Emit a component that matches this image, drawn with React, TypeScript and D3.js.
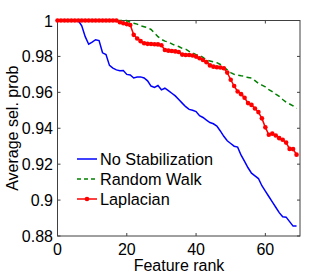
import React from 'react';
import * as d3 from 'd3';

// Feature rank 0..69
const noStabilization = [
  1, 1, 1, 1, 1, 1, 1, 0.997, 0.991, 0.9868,
  0.988, 0.9893, 0.9888, 0.982, 0.981, 0.975, 0.9735, 0.9725, 0.972, 0.9722,
  0.97, 0.9697, 0.968, 0.9685, 0.9686, 0.968, 0.9664, 0.9635, 0.9627, 0.9638,
  0.9614, 0.9623, 0.961, 0.9595, 0.958, 0.956, 0.954, 0.952, 0.9505, 0.95,
  0.9493, 0.947, 0.946, 0.9445, 0.9432, 0.9425, 0.9412, 0.9385, 0.9355, 0.933,
  0.9315, 0.93, 0.9295, 0.925, 0.9216, 0.918, 0.915, 0.9135, 0.912, 0.908,
  0.905, 0.902, 0.899, 0.896, 0.893, 0.8907, 0.8905, 0.888, 0.8855, 0.8855,
];

const randomWalk = [
  1, 1, 1, 1, 1, 1, 1, 1, 1, 1,
  1, 1, 1, 1, 1, 1, 1, 1, 1, 1,
  1, 0.999, 0.9985, 0.998, 0.997, 0.9965, 0.996, 0.995, 0.993, 0.991,
  0.9895, 0.9885, 0.988, 0.987, 0.986, 0.9855, 0.9845, 0.984, 0.9828, 0.982,
  0.981, 0.9805, 0.9795, 0.978, 0.9775, 0.977, 0.9765, 0.9755, 0.974, 0.9725,
  0.971, 0.97, 0.9695, 0.9692, 0.969, 0.9682, 0.968, 0.9665, 0.965, 0.964,
  0.963, 0.9615, 0.9604, 0.959, 0.9578, 0.956, 0.9545, 0.9535, 0.9525, 0.951,
];

const laplacian = [
  1, 1, 1, 1, 1, 1, 1, 1, 1, 1,
  1, 1, 1, 1, 1, 1, 1, 1, 0.999, 0.9985,
  0.998, 0.9975, 0.992, 0.99, 0.9885, 0.9873, 0.987, 0.9869, 0.9868, 0.9867,
  0.9862, 0.9836, 0.9832, 0.983, 0.9828, 0.9825, 0.981, 0.9808, 0.9808, 0.9805,
  0.9799, 0.979, 0.978, 0.9768, 0.975, 0.9743, 0.974, 0.9738, 0.9734, 0.971,
  0.967, 0.9635, 0.9605, 0.959, 0.957, 0.954, 0.953, 0.951, 0.949, 0.9455,
  0.9405, 0.9364, 0.937, 0.936, 0.9345, 0.9336, 0.932, 0.9285, 0.9284, 0.9253,
];

const xTicks = [0, 20, 40, 60];
const yTicks = [0.88, 0.9, 0.92, 0.94, 0.96, 0.98, 1];
const yTickLabels = ['0.88', '0.9', '0.92', '0.94', '0.96', '0.98', '1'];
const legendLabels = ['No Stabilization', 'Random Walk', 'Laplacian'];

const W = 332;
const H = 274;
const font = '"Liberation Sans", Arial, Helvetica, sans-serif';
const axisColor = '#404040';

export default function App() {
  const x = d3.scaleLinear().domain([0, 70]).range([57.5, 300]);
  const y = d3.scaleLinear().domain([0.88, 1]).range([236, 20.5]);

  const line = d3
    .line<number>()
    .x((_, i) => x(i))
    .y((d) => y(d));

  const [x0, x1] = x.range();
  const [y0, y1] = y.range();
  const tick = 3;

  return (
    <svg
      width={W}
      height={H}
      style={{ position: 'absolute', left: 0, top: 0, background: '#fff' }}
      fontFamily={font}
    >
      {/* plot box */}
      <rect x={x0} y={y1} width={x1 - x0} height={y0 - y1} fill="#fff" stroke={axisColor} strokeWidth={1} />

      {/* ticks */}
      {xTicks.map((t) => (
        <g key={`xt${t}`}>
          <line x1={x(t)} x2={x(t)} y1={y0} y2={y0 - tick} stroke={axisColor} />
          <line x1={x(t)} x2={x(t)} y1={y1} y2={y1 + tick} stroke={axisColor} />
          <text x={x(t)} y={254.5} textAnchor="middle" fontSize={16} fill="#000">
            {t}
          </text>
        </g>
      ))}
      {yTicks.map((t, i) => (
        <g key={`yt${t}`}>
          <line x1={x0} x2={x0 + tick} y1={y(t)} y2={y(t)} stroke={axisColor} />
          <line x1={x1} x2={x1 - tick} y1={y(t)} y2={y(t)} stroke={axisColor} />
          <text x={53} y={y(t) + 6} textAnchor="end" fontSize={16} fill="#000">
            {yTickLabels[i]}
          </text>
        </g>
      ))}

      {/* series */}
      <path d={line(randomWalk) ?? ''} fill="none" stroke="#008000" strokeWidth={1.5} strokeDasharray="5,3.5" />
      <path d={line(noStabilization) ?? ''} fill="none" stroke="#0000ff" strokeWidth={1.5} />
      <path d={line(laplacian) ?? ''} fill="none" stroke="#ff0000" strokeWidth={1.5} />
      {laplacian.map((d, i) => (
        <circle key={`m${i}`} cx={x(i)} cy={y(d)} r={2.3} fill="#ff0000" />
      ))}

      {/* axis titles */}
      <text x={179} y={271} textAnchor="middle" fontSize={16} fill="#000">
        Feature rank
      </text>
      <text
        transform={`translate(17.5, ${(y0 + y1) / 2}) rotate(-90)`}
        textAnchor="middle"
        fontSize={16}
        fill="#000"
      >
        Average sel. prob
      </text>

      {/* legend */}
      {legendLabels.map((label, i) => {
        const ly = 159 + i * 20;
        const colors = ['#0000ff', '#008000', '#ff0000'];
        return (
          <g key={label}>
            <line
              x1={77}
              x2={97}
              y1={ly}
              y2={ly}
              stroke={colors[i]}
              strokeWidth={1.5}
              strokeDasharray={i === 1 ? '4,3' : undefined}
            />
            {i === 2 && <circle cx={87} cy={ly} r={2.3} fill="#ff0000" />}
            <text x={100} y={ly + 6} fontSize={16.3} fill="#000">
              {label}
            </text>
          </g>
        );
      })}
    </svg>
  );
}
